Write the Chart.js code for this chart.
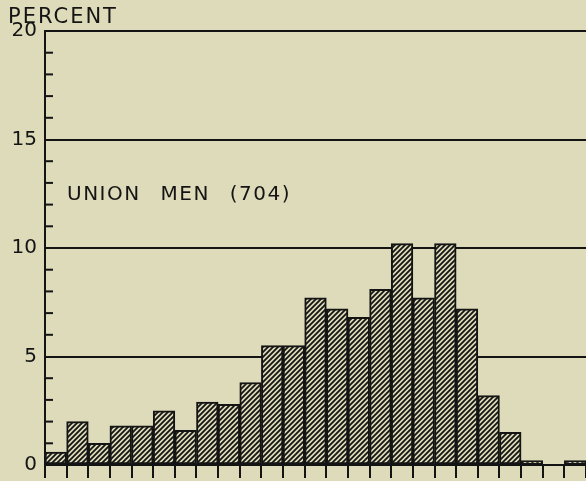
<!DOCTYPE html>
<html>
<head>
<meta charset="utf-8">
<script src="https://cdn.jsdelivr.net/npm/chart.js@4"></script>
<style>
  html, body { margin: 0; padding: 0; background: #dddbb9; }
  #wrap { width: 586px; height: 481px; }
</style>
</head>
<body>
<div id="wrap"><canvas id="grafico" width="586" height="481"></canvas></div>
<script>
// ===== dados =====
const classes = ["1","2","3","4","5","6","7","8","9","10","11","12","13","14","15","16","17","18","19","20","21","22","23","24","25"];
const percentUnion = [0.6, 2.0, 1.0, 1.8, 1.8, 2.5, 1.6, 2.9, 2.8, 3.8, 5.5, 5.5, 7.7, 7.2, 6.8, 8.1, 10.2, 7.7, 10.2, 7.2, 3.2, 1.5, 0.2, 0, 0.2];
const yTicks = [0, 5, 10, 15, 20];
const yMinor = [1,2,3,4,6,7,8,9,11,12,13,14,16,17,18,19];
const rotulo = "UNION MEN (704)";

const fundo = "#dddbb9";
const tinta = "#141414";

// ===== hachura =====
function hachura() {
  const c = document.createElement("canvas");
  c.width = 5; c.height = 5;
  const g = c.getContext("2d");
  g.fillStyle = fundo;
  g.fillRect(0, 0, 5, 5);
  g.strokeStyle = tinta;
  g.lineWidth = 1.8;
  g.beginPath();
  g.moveTo(-1, 6); g.lineTo(6, -1);
  g.moveTo(-4, 4); g.lineTo(4, -4);
  g.moveTo(1, 9); g.lineTo(9, 1);
  g.stroke();
  return g.createPattern(c, "repeat");
}

// ===== textos e marcas extras =====
const extras = {
  id: "extras",
  afterDraw(chart) {
    const ctx = chart.ctx;
    const y = chart.scales.y;
    const area = chart.chartArea;
    ctx.save();
    // marcas menores do eixo y, para dentro
    ctx.strokeStyle = tinta;
    ctx.lineWidth = 2;
    yMinor.forEach(v => {
      const py = y.getPixelForValue(v);
      ctx.beginPath();
      ctx.moveTo(area.left, py);
      ctx.lineTo(area.left + 8, py);
      ctx.stroke();
    });
    ctx.fillStyle = tinta;
    ctx.textBaseline = "alphabetic";
    ctx.textAlign = "left";
    ctx.font = "21px 'DejaVu Sans'";
    ctx.letterSpacing = "2px";
    ctx.fillText("PERCENT", 8, 23);
    ctx.font = "20px 'DejaVu Sans'";
    ctx.letterSpacing = "1.5px";
    ctx.wordSpacing = "12px";
    ctx.fillText(rotulo, area.left + 22, y.getPixelForValue(12.2));
    ctx.restore();
  }
};

let ctx = document.getElementById("grafico");

let chart = new Chart(ctx, {
  type: "bar",
  data: {
    labels: classes,
    datasets: [{
      label: "Union men",
      data: percentUnion,
      backgroundColor: hachura(),
      borderColor: tinta,
      borderWidth: 2,
      borderSkipped: false,
      categoryPercentage: 1,
      barPercentage: 1
    }]
  },
  options: {
    responsive: false,
    animation: false,
    layout: { padding: { top: 31, right: 0, bottom: 0, left: 0 } },
    plugins: {
      legend: { display: false },
      tooltip: { enabled: false }
    },
    scales: {
      x: {
        offset: true,
        afterFit(scale) { scale.height = 16; scale.paddingLeft = 0; scale.paddingRight = 0; },
        grid: {
          offset: true,
          drawOnChartArea: false,
          drawTicks: true,
          tickLength: 13,
          color: tinta,
          lineWidth: 2
        },
        border: { display: true, color: tinta, width: 2 },
        ticks: { display: false }
      },
      y: {
        min: 0,
        max: 20,
        afterFit(scale) { scale.width = 45; scale.paddingTop = 0; scale.paddingBottom = 0; },
        afterBuildTicks(scale) { scale.ticks = yTicks.map(v => ({ value: v })); },
        grid: {
          drawTicks: false,
          color: tinta,
          lineWidth: 2
        },
        border: { display: true, color: tinta, width: 2 },
        ticks: {
          padding: 8,
          color: tinta,
          font: { family: "'DejaVu Sans'", size: 20 },
          callback: v => String(v)
        }
      }
    }
  },
  plugins: [extras]
});
</script>
</body>
</html>
